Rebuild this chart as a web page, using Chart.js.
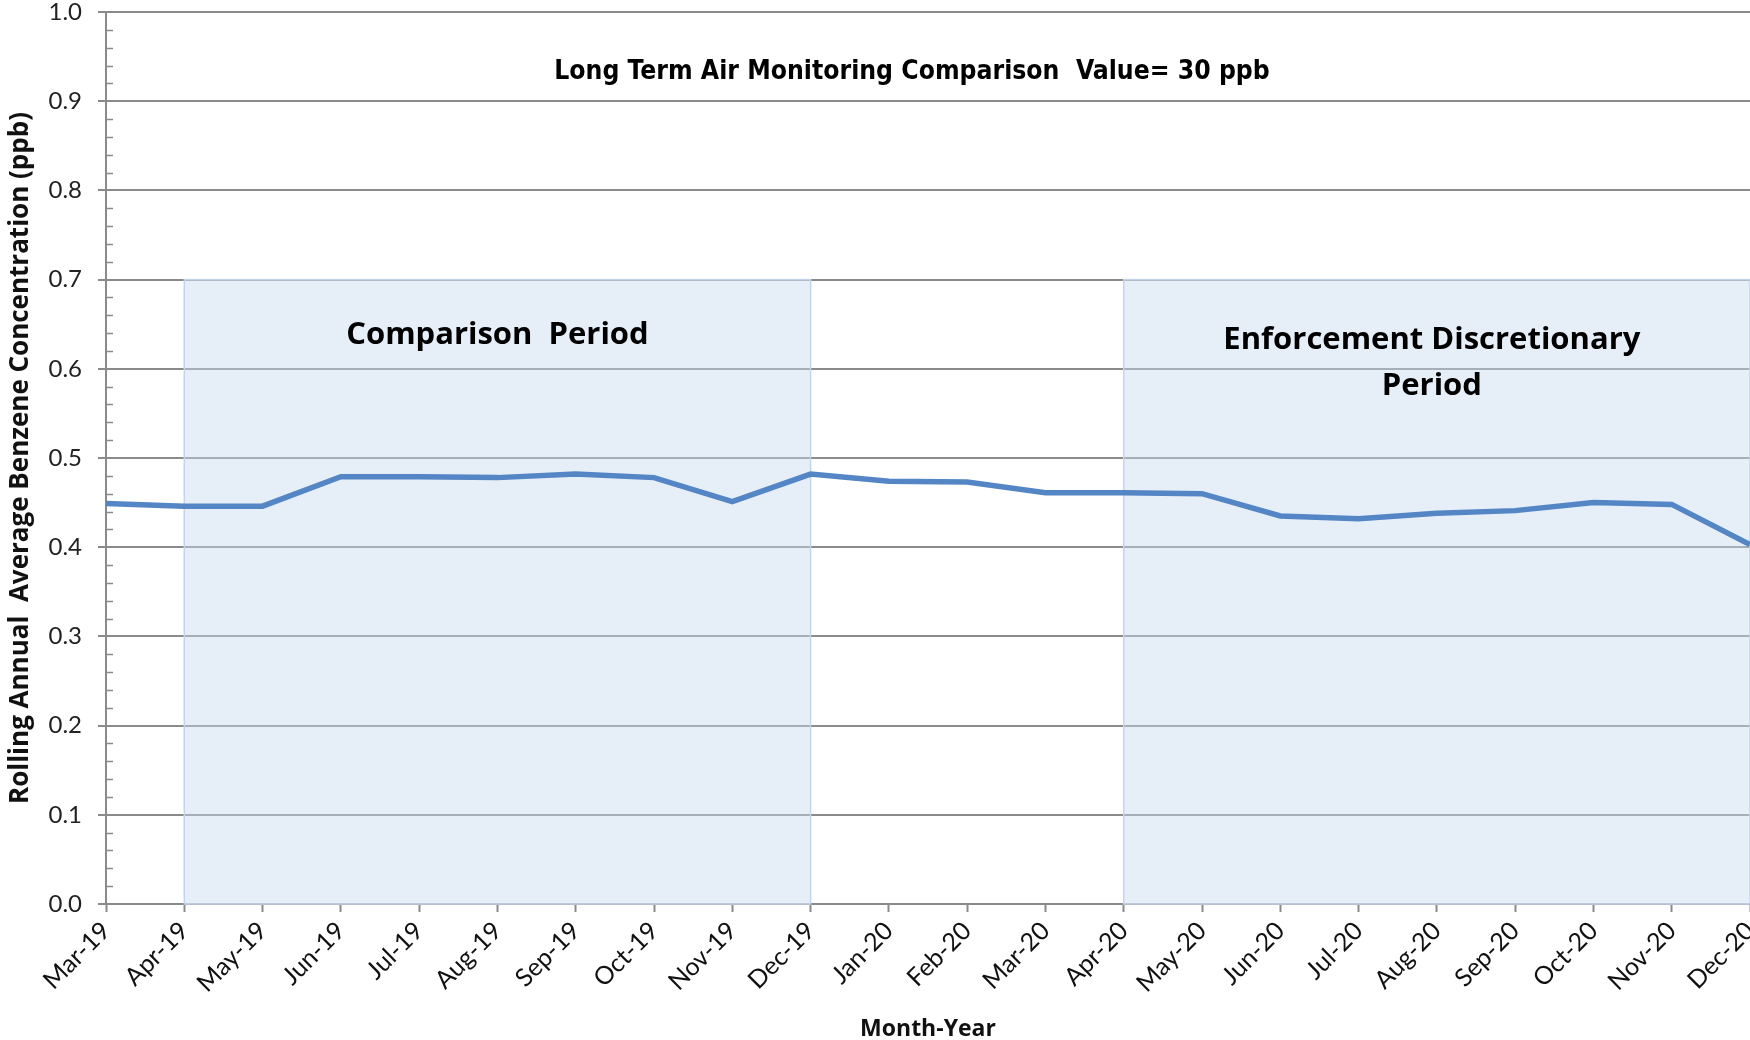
<!DOCTYPE html>
<html lang="en">
<head>
    <meta charset="UTF-8">
    <title>Rolling Annual Average Benzene Concentration</title>
    <script src="https://cdn.jsdelivr.net/npm/chart.js"></script>
    <style>
        body {
            margin: 0;
            padding: 0;
            background: white;
        }
        .chart-box {
            width: 1750px;
            height: 1040px;
            position: relative;
        }
    </style>
</head>
<body>

    <div class="chart-box">
        <canvas id="grafico"></canvas>
    </div>

    <script>
        // dados
        const meses = ["Mar-19", "Apr-19", "May-19", "Jun-19", "Jul-19", "Aug-19", "Sep-19", "Oct-19",
            "Nov-19", "Dec-19", "Jan-20", "Feb-20", "Mar-20", "Apr-20", "May-20", "Jun-20", "Jul-20",
            "Aug-20", "Sep-20", "Oct-20", "Nov-20", "Dec-20"];
        const benzeno = [0.449, 0.446, 0.446, 0.479, 0.479, 0.478, 0.482, 0.478, 0.451, 0.482, 0.474,
            0.473, 0.461, 0.461, 0.460, 0.435, 0.432, 0.438, 0.441, 0.450, 0.448, 0.403];
        const periodoComparacao = ["Apr-19", "Dec-19"];
        const periodoFiscalizacao = ["Apr-20", "Dec-20"];
        const topoPeriodos = [0, 0.7];
        const yTicks = [0, 1, 0.1];

        const fonte = "Lato, 'Open Sans', sans-serif";
        const fonteBold = "'Open Sans', Lato, sans-serif";
        const cinza = "#8a8a8a";

        // caixas azuis dos periodos + textos
        const periodos = {
            id: "periodos",
            beforeDatasetsDraw(chart) {
                const x = chart.scales.x, y = chart.scales.y;
                const ctx = chart.ctx;
                ctx.save();
                [periodoComparacao, periodoFiscalizacao].forEach(p => {
                    const x0 = x.getPixelForValue(meses.indexOf(p[0]));
                    const x1 = x.getPixelForValue(meses.indexOf(p[1]));
                    const y0 = y.getPixelForValue(topoPeriodos[0]);
                    const y1 = y.getPixelForValue(topoPeriodos[1]);
                    ctx.fillStyle = "rgba(200, 218, 240, 0.45)";
                    ctx.fillRect(x0, y1, x1 - x0, y0 - y1);
                    ctx.strokeStyle = "#c3d4ea";
                    ctx.lineWidth = 1.5;
                    ctx.strokeRect(x0, y1, x1 - x0, y0 - y1);
                });

                // minor ticks do eixo y
                ctx.strokeStyle = cinza;
                ctx.lineWidth = 1.5;
                for (let i = 0; i <= 50; i++) {
                    if (i % 5 === 0) continue;
                    const py = Math.round(y.getPixelForValue(i * 0.02)) + 0.5;
                    ctx.beginPath();
                    ctx.moveTo(x.left, py);
                    ctx.lineTo(x.left + 7, py);
                    ctx.stroke();
                }

                // textos
                ctx.fillStyle = "#000";
                ctx.textAlign = "center";
                ctx.textBaseline = "middle";
                const meio = (a, b) => (x.getPixelForValue(meses.indexOf(a)) + x.getPixelForValue(meses.indexOf(b))) / 2;

                ctx.font = "bold 26.3px 'Liberation Sans Narrow', 'DejaVu Sans Condensed', sans-serif";
                ctx.fillText("Long Term Air Monitoring Comparison  Value= 30 ppb", (x.left + x.right) / 2 - 16, y.getPixelForValue(0.932));

                ctx.font = "bold 31px " + fonteBold;
                ctx.fillText("Comparison  Period", meio(periodoComparacao[0], periodoComparacao[1]), y.getPixelForValue(0.638));
                ctx.fillText("Enforcement Discretionary", meio(periodoFiscalizacao[0], periodoFiscalizacao[1]) - 5, y.getPixelForValue(0.632));
                ctx.fillText("Period", meio(periodoFiscalizacao[0], periodoFiscalizacao[1]) - 5, y.getPixelForValue(0.581));
                ctx.restore();
            }
        };

        const ctx = document.getElementById("grafico").getContext("2d");
        new Chart(ctx, {
            type: "line",
            data: {
                labels: meses,
                datasets: [{
                    label: "Benzene",
                    data: benzeno,
                    borderColor: "#5486c6",
                    borderWidth: 5.5,
                    pointRadius: 0,
                    tension: 0,
                    fill: false
                }]
            },
            options: {
                responsive: true,
                maintainAspectRatio: false,
                animation: false,
                layout: { padding: { top: 0, left: 0, right: 0, bottom: -3 } },
                plugins: {
                    legend: { display: false },
                    tooltip: { enabled: false }
                },
                scales: {
                    x: {
                        offset: false,
                        grid: {
                            drawOnChartArea: false,
                            drawTicks: true,
                            tickLength: 8,
                            tickColor: cinza,
                            tickWidth: 2
                        },
                        border: { color: cinza, width: 2 },
                        ticks: {
                            autoSkip: false,
                            maxRotation: 45,
                            minRotation: 45,
                            padding: 4,
                            color: "#111",
                            font: { family: fonte, size: 25 }
                        },
                        title: {
                            display: true,
                            text: "Month-Year",
                            color: "#111",
                            font: { family: fonteBold, size: 23, weight: "bold" },
                            padding: { top: 0, bottom: 0 }
                        },
                        afterFit(s) {
                            s.height = 139;
                            s.paddingLeft = 0;
                            s.paddingRight = 0;
                        }
                    },
                    y: {
                        min: yTicks[0],
                        max: yTicks[1],
                        ticks: {
                            stepSize: yTicks[2],
                            padding: 16,
                            color: "#222",
                            font: { family: fonte, size: 24 },
                            callback: v => v.toFixed(1)
                        },
                        grid: {
                            color: cinza,
                            lineWidth: 2,
                            tickLength: 8,
                            tickColor: cinza
                        },
                        border: { color: cinza, width: 2 },
                        title: {
                            display: true,
                            text: "Rolling Annual  Average Benzene Concentration (ppb)",
                            color: "#111",
                            font: { family: fonteBold, size: 26, weight: "bold" },
                            padding: { top: 5, bottom: 0 }
                        },
                        afterFit(s) {
                            s.width = 106;
                            s.paddingTop = 12;
                            s.paddingBottom = 0;
                        }
                    }
                }
            },
            plugins: [periodos]
        });
    </script>

</body>
</html>
